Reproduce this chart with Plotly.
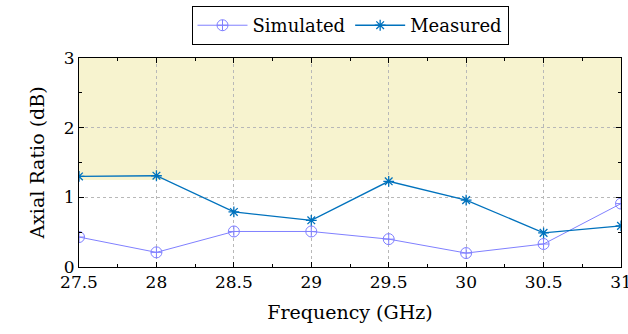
import plotly.graph_objects as go

freq = [27.5, 28, 28.5, 29, 29.5, 30, 30.5, 31]
simulated = [0.43, 0.21, 0.51, 0.51, 0.40, 0.20, 0.33, 0.91]
measured = [1.30, 1.31, 0.79, 0.67, 1.23, 0.96, 0.49, 0.59]
band_low, band_high = 1.25, 3.0

FONT = "DejaVu Serif, Liberation Serif, serif"

fig = go.Figure()
fig.add_trace(go.Scatter(x=freq, y=simulated, name="Simulated", mode="lines+markers",
                         line=dict(color="#8080ff", width=1),
                         marker=dict(symbol="circle-cross-open", size=11, color="#8080ff", line=dict(width=1))))
fig.add_trace(go.Scatter(x=freq, y=measured, name="Measured", mode="lines+markers",
                         line=dict(color="#0072bd", width=1.3),
                         marker=dict(symbol="asterisk-open", size=9, color="#0072bd", line=dict(width=1.3, color="#0072bd"))))

fig.add_shape(type="rect", xref="x", yref="y", x0=freq[0], x1=freq[-1], y0=band_low, y1=band_high,
              fillcolor="#f7f3cf", line=dict(width=0), layer="below")

axis_common = dict(showline=True, linecolor="black", linewidth=1, mirror="ticks", ticks="inside",
                   ticklen=5, tickcolor="black", showgrid=True, gridcolor="#b8b8b8", griddash="dot",
                   gridwidth=0.8, zeroline=False, ticklabeloverflow="allow", automargin=False,
                   tickfont=dict(family=FONT, size=17, color="black"))

fig.update_xaxes(range=[27.5, 31], tickvals=freq, ticktext=[str(f) for f in freq],
                 title=dict(text="Frequency (GHz)", font=dict(family=FONT, size=19, color="black"), standoff=14),
                 minor=dict(ticks="inside", ticklen=3, tickcolor="black", dtick=0.25, tick0=27.5, showgrid=False),
                 **axis_common)
fig.update_yaxes(range=[0, 3], tickvals=[0, 1, 2, 3],
                 title=dict(text="Axial Ratio (dB)", font=dict(family=FONT, size=19, color="black"), standoff=14),
                 minor=dict(ticks="inside", ticklen=3, tickcolor="black", dtick=0.5, tick0=0, showgrid=False),
                 **axis_common)

fig.update_layout(width=628, height=334, margin=dict(l=79, r=7, t=57, b=67),
                  template="none",
                  plot_bgcolor="white", paper_bgcolor="white",
                  font=dict(family=FONT, color="black"),
                  legend=dict(orientation="h", x=0.5, xanchor="center", y=1.057, yanchor="bottom",
                              bordercolor="black", borderwidth=1, font=dict(family=FONT, size=18, color="black"),
                              itemwidth=50))
fig.write_html("out.html")
